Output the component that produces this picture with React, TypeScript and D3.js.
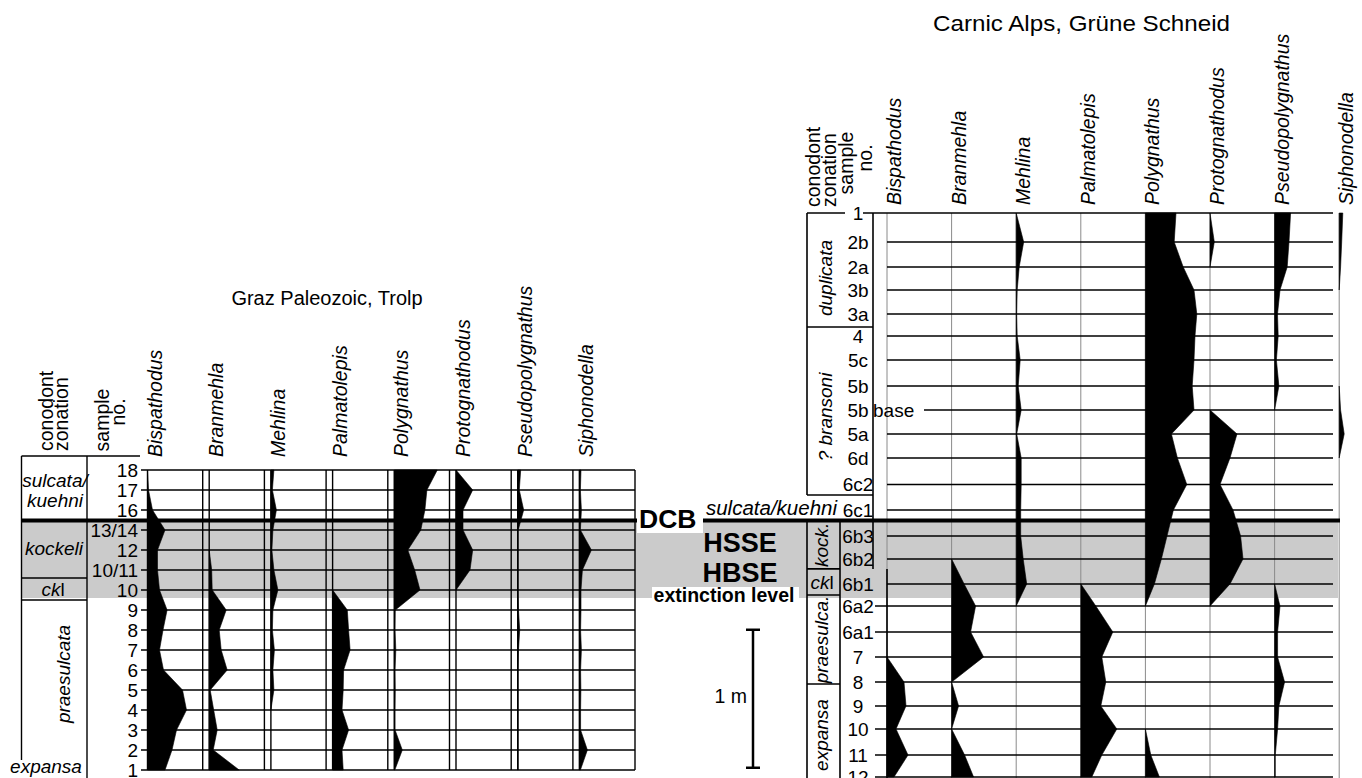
import React from "react";
import * as d3 from "d3";

const n = null;

const taxa = ["Bispathodus", "Branmehla", "Mehlina", "Palmatolepis", "Polygnathus", "Protognathodus", "Pseudopolygnathus", "Siphonodella"];

// Graz Paleozoic, Trolp - samples top to bottom (equal spacing)
const trolpSamples = ["18", "17", "16", "13/14", "12", "10/11", "10", "9", "8", "7", "6", "5", "4", "3", "2", "1"];
// relative abundance per sample, null = not found
const trolpBispathodus = [0, 1, 5, 17.5, 10, 10, 12, 19.6, 15.5, 12, 16, 35, 39, 29, 24.5, 17.5];
const trolpBranmehla = [n, n, n, n, 0, 2.5, 3, 17, 10, 12, 18, 1, 4.5, 8, 4, 30];
const trolpMehlina = [3, 1.5, 5.5, 2, 1, 3, 7, 2, 1.5, 3.5, 2, 3, 0, n, n, n];
const trolpPalmatolepis = [n, n, n, n, n, n, 0, 14.7, 16, 17.5, 11, 10.6, 9.4, 16, 9.4, 10.6];
const trolpPolygnathus = [43, 32.6, 30.6, 26.5, 13.5, 20.4, 25.7, 1, 0.8, 1.5, 0.8, 1, 0.8, 0.8, 8, 0.5];
const trolpProtognathodus = [0, 16.7, 7, 7, 16.7, 14, 0, n, n, n, n, n, n, n, n, n];
const trolpPseudopolygnathus = [3, 1.6, 6, 0.5, 0.5, 0.5, 0.5, 0.8, 2, 0.8, 0.5, 0.5, 0.5, 0.5, 0.5, 0.5];
const trolpSiphonodella = [1.6, 1, 2, 1, 12, 3, 1.6, 1.6, 1.2, 2, 1.2, 1.5, 1.2, 1.2, 8, 1];
// zone boundaries in sample-index units
const trolpZoneNames = ["sulcata/kuehni", "kockeli", "ckl", "praesulcata"];
const trolpZoneTops = [-0.7, 2.5, 5.4, 6.5];
const trolpZoneBottoms = [2.5, 5.4, 6.5, 15.4];

// Carnic Alps, Grune Schneid - samples with depth below sample 1 (cm)
const gsSamples = ["1", "2b", "2a", "3b", "3a", "4", "5c", "5b", "5b base", "5a", "6d", "6c2", "6c1", "6b3", "6b2", "6b1", "6a2", "6a1", "7", "8", "9", "10", "11", "12"];
const gsDepth = [0, 21, 39.1, 55.8, 73.2, 89.1, 106.5, 125.4, 142.8, 160.1, 177.5, 196.7, 215.2, 234.1, 250.7, 268.8, 284.8, 303.6, 321.7, 339.9, 357.2, 373.9, 392.8, 408.7];
const gsBispathodus = [n, n, n, n, n, n, n, n, n, n, n, n, n, n, n, n, n, n, 0, 17, 19, 9, 21, 7];
const gsBranmehla = [n, n, n, n, n, n, n, n, n, n, n, n, n, n, 0, 12.5, 24, 19, 32, 0, 7, 0, 13, 22];
const gsMehlina = [0, 7.5, 3, 1, 0.5, 1, 4, 2, 5, 0.5, 5, 5, 4.5, 4.5, 7, 10.5, 0, n, n, n, n, n, n, n];
const gsPalmatolepis = [n, n, n, n, n, n, n, n, n, n, n, n, n, n, n, 0, 15, 32, 21, 25, 20, 36, 21, 11];
const gsPolygnathus = [30.6, 28.8, 37.8, 48.6, 51.4, 49.6, 48.6, 46.8, 48.6, 26, 32, 41.4, 28, 21.6, 16, 9, 0, n, n, n, n, 0, 5.4, 14];
const gsProtognathodus = [0, 4.3, 0, n, n, n, n, n, 0, 27, 20, 10, 23, 30.6, 33, 20, 0, n, n, n, n, n, n, n];
const gsPseudopolygnathus = [16, 14.4, 12.6, 5.4, 2.9, 3.6, 1.8, 4.3, 0, n, n, n, n, n, n, 0, 5.4, 3, 3, 10, 4.3, 3, 0.7, 0.7];
const gsSiphonodella = [3.6, 2.5, 1.4, 0, n, n, n, 0, 1.4, 5, 0, n, n, n, n, n, n, n, n, n, n, n, n, n];
const gsZoneNames = ["duplicata", "? bransoni", "sulcata/kuehni", "kock.", "ckl", "praesulca.", "expansa"];
const gsZoneTops = [0, 82.6, 204.3, 223, 257.9, 276.8, 341.3];
const gsZoneBottoms = [82.6, 204.3, 223, 257.9, 276.8, 341.3, 420];

const trolpData = [trolpBispathodus, trolpBranmehla, trolpMehlina, trolpPalmatolepis, trolpPolygnathus, trolpProtognathodus, trolpPseudopolygnathus, trolpSiphonodella];
const gsData = [gsBispathodus, gsBranmehla, gsMehlina, gsPalmatolepis, gsPolygnathus, gsProtognathodus, gsPseudopolygnathus, gsSiphonodella];

const FONT = "'Liberation Sans', Arial, Helvetica, sans-serif";

function Ckl(props) {
  return (
    <text {...props}>
      <tspan fontStyle="italic">ck</tspan>
      <tspan>l</tspan>
    </text>
  );
}

export default function App() {
  const yL = d3.scaleLinear().domain([0, trolpSamples.length - 1]).range([470, 770]);
  const yR = d3.scaleLinear().domain([0, 100]).range([213, 351]);
  const w = d3.scaleLinear().domain([0, 50]).range([0, 50]);
  const lCol = d3.scaleLinear().domain([0, 1]).range([141, 202.7]);
  const rCol = d3.scaleLinear().domain([0, 1]).range([887, 951.6]);
  const lBase = (i) => lCol(i) + 6.5;
  const lRight = 635;
  const rRight = 1333;

  const shape = (vals, base, yFn) =>
    d3.area()
      .defined((v) => v != null)
      .x0(base)
      .x1((v) => base + w(v))
      .y((_, i) => yFn(i))(vals) || "";

  const yRi = (i) => yR(gsDepth[i]);

  const lineL = { stroke: "#000", strokeWidth: 1.4 };
  const lineR = { stroke: "#000", strokeWidth: 1.6 };

  return (
    <svg width={1362} height={778} style={{ position: "absolute", left: 0, top: 0, background: "#fff" }} fontFamily={FONT}>
      <rect x={0} y={0} width={1362} height={778} fill="#fff" />

      {/* DCB / extinction band */}
      <rect x={21} y={yL(2.5)} width={1317} height={yL(6.4) - yL(2.5)} fill="#cbcbcb" />

      {/* ===== Left section: Graz Paleozoic, Trolp ===== */}
      <text x={327} y={305} textAnchor="middle" fontSize={20}>Graz Paleozoic, Trolp</text>
      <text transform="translate(53,451) rotate(-90)" fontSize={19.5}>conodont</text>
      <text transform="translate(68,451) rotate(-90)" fontSize={19.5}>zonation</text>
      <text transform="translate(109,420) rotate(-90)" fontSize={19.5} textAnchor="middle">sample</text>
      <text transform="translate(125,412) rotate(-90)" fontSize={19.5} textAnchor="middle">no.</text>
      {taxa.map((t, i) => (
        <text key={t} transform={`translate(${lBase(i) + 14},457) rotate(-90)`} fontSize={19.5} fontStyle="italic">{t}</text>
      ))}

      {trolpData.map((vals, i) => (
        <path key={i} d={shape(vals, lBase(i), yL)} fill="#000" stroke="#000" strokeWidth={0.6} />
      ))}

      {/* rows */}
      {trolpSamples.map((s, i) => (
        <g key={s}>
          <line x1={141} x2={lRight} y1={yL(i)} y2={yL(i)} {...lineL} />
          <text x={138} y={yL(i) + 6.5} textAnchor="end" fontSize={19}>{s}</text>
        </g>
      ))}
      {/* columns */}
      {taxa.map((t, i) => (
        <g key={t}>
          {i > 0 && <line x1={lCol(i)} x2={lCol(i)} y1={yL(0)} y2={yL(15)} {...lineL} />}
          <line x1={lBase(i)} x2={lBase(i)} y1={yL(0)} y2={yL(15)} {...lineL} />
        </g>
      ))}
      <line x1={lRight} x2={lRight} y1={yL(0)} y2={yL(15)} {...lineL} />

      {/* zone column */}
      <line x1={21.5} x2={140} y1={yL(-0.7)} y2={yL(-0.7)} {...lineL} />
      <line x1={21.5} x2={21.5} y1={yL(-0.7)} y2={760} {...lineL} />
      <line x1={87} x2={87} y1={yL(-0.7)} y2={778} {...lineL} />
      {trolpZoneTops.slice(2).map((t, i) => (
        <line key={i} x1={21.5} x2={87} y1={yL(t)} y2={yL(t)} {...lineL} />
      ))}
      <text x={55} y={487} textAnchor="middle" fontSize={19} fontStyle="italic">{trolpZoneNames[0].split("/")[0] + "/"}</text>
      <text x={55} y={507} textAnchor="middle" fontSize={19} fontStyle="italic">{trolpZoneNames[0].split("/")[1]}</text>
      <text x={54} y={(yL(trolpZoneTops[1]) + yL(trolpZoneBottoms[1])) / 2 + 6} textAnchor="middle" fontSize={19} fontStyle="italic">{trolpZoneNames[1]}</text>
      <Ckl x={53} y={(yL(trolpZoneTops[2]) + yL(trolpZoneBottoms[2])) / 2 + 7} textAnchor="middle" fontSize={19} />
      <text transform="translate(70,674) rotate(-90)" textAnchor="middle" fontSize={19} fontStyle="italic">{trolpZoneNames[3]}</text>
      <text x={46} y={773} textAnchor="middle" fontSize={19} fontStyle="italic">expansa</text>

      {/* ===== Right section: Carnic Alps, Grune Schneid ===== */}
      <text x={933} y={31} fontSize={22} textLength={297} lengthAdjust="spacingAndGlyphs">Carnic Alps, Grüne Schneid</text>
      <text transform="translate(820,207) rotate(-90)" fontSize={19.5}>conodont</text>
      <text transform="translate(836,207) rotate(-90)" fontSize={19.5}>zonation</text>
      <text transform="translate(853,163) rotate(-90)" fontSize={19.5} textAnchor="middle">sample</text>
      <text transform="translate(872,158) rotate(-90)" fontSize={19.5} textAnchor="middle">no.</text>
      {taxa.map((t, i) => (
        <text key={t} transform={`translate(${rCol(i) + 14},205) rotate(-90)`} fontSize={19.5} fontStyle="italic">{t}</text>
      ))}

      {/* columns (thin grey) */}
      {taxa.map((t, i) => (
        <line key={t} x1={rCol(i)} x2={rCol(i)} y1={yR(0)} y2={778} stroke="#8a8a8a" strokeWidth={1} />
      ))}

      {gsData.map((vals, i) => (
        <path key={i} d={shape(vals, rCol(i), yRi)} fill="#000" stroke="#000" strokeWidth={0.6} />
      ))}

      {gsSamples.map((s, i) => {
        const y = yR(gsDepth[i]);
        const [main, extra] = s.split(" ");
        const x1 = extra ? 924 : gsDepth[i] > gsZoneBottoms[4] ? 875 : rCol(0);
        return (
          <g key={s}>
            {i === 0 ? (
              <>
                <line x1={807} x2={845} y1={y} y2={y} {...lineR} />
                <line x1={863} x2={rRight} y1={y} y2={y} {...lineR} />
              </>
            ) : (
              <line x1={x1} x2={rRight} y1={y} y2={y} {...lineR} />
            )}
            <text x={858} y={y + 7} textAnchor="middle" fontSize={19}>{main}</text>
            {extra && <text x={873} y={y + 7} fontSize={19}>{extra}</text>}
          </g>
        );
      })}

      {/* zone column */}
      <line x1={807} x2={807} y1={yR(0)} y2={yR(gsZoneBottoms[1])} {...lineR} />
      <line x1={807} x2={807} y1={yR(gsZoneTops[3])} y2={778} {...lineR} />
      <line x1={873} x2={873} y1={yR(0)} y2={yR(gsZoneBottoms[3])} {...lineR} />
      <line x1={rCol(0)} x2={rCol(0)} y1={yR(gsZoneBottoms[3])} y2={778} {...lineR} />
      <line x1={840} x2={840} y1={yR(gsZoneTops[3])} y2={778} {...lineR} />
      {[gsZoneBottoms[0], gsZoneBottoms[1]].map((d, i) => (
        <line key={i} x1={807} x2={873} y1={yR(d)} y2={yR(d)} {...lineR} />
      ))}
      {[gsZoneBottoms[3], gsZoneBottoms[4], gsZoneBottoms[5]].map((d, i) => (
        <line key={i} x1={807} x2={840} y1={yR(d)} y2={yR(d)} {...lineR} />
      ))}
      <text transform={`translate(832,${(yR(gsZoneTops[0]) + yR(gsZoneBottoms[0])) / 2 + 8}) rotate(-90)`} textAnchor="middle" fontSize={19} fontStyle="italic">{gsZoneNames[0]}</text>
      <text transform={`translate(832,${(yR(gsZoneTops[1]) + yR(gsZoneBottoms[1])) / 2 + 6}) rotate(-90)`} textAnchor="middle" fontSize={19} fontStyle="italic">{gsZoneNames[1]}</text>
      <text x={837} y={515} textAnchor="end" fontSize={20.5} fontStyle="italic">{gsZoneNames[2]}</text>
      <text transform={`translate(828,${(yR(gsZoneTops[3]) + yR(gsZoneBottoms[3])) / 2}) rotate(-90)`} textAnchor="middle" fontSize={19} fontStyle="italic">{gsZoneNames[3]}</text>
      <Ckl x={822} y={(yR(gsZoneTops[4]) + yR(gsZoneBottoms[4])) / 2 + 7} textAnchor="middle" fontSize={19} />
      <text transform={`translate(828,${(yR(gsZoneTops[5]) + yR(gsZoneBottoms[5])) / 2}) rotate(-90)`} textAnchor="middle" fontSize={19} fontStyle="italic">{gsZoneNames[5]}</text>
      <text transform="translate(828,735) rotate(-90)" textAnchor="middle" fontSize={19} fontStyle="italic">{gsZoneNames[6]}</text>

      {/* ===== Boundary and event labels ===== */}
      <line x1={21} x2={1340} y1={520.5} y2={520.5} stroke="#000" strokeWidth={4} />
      <rect x={637} y={506} width={66} height={27} fill="#fff" />
      <text x={639} y={528} fontSize={26.5} fontWeight="bold">DCB</text>
      <text x={740} y={552} textAnchor="middle" fontSize={27} fontWeight="bold">HSSE</text>
      <text x={740} y={582} textAnchor="middle" fontSize={27} fontWeight="bold">HBSE</text>
      <rect x={652} y={587} width={147} height={17} fill="#fff" />
      <text x={724} y={602} textAnchor="middle" fontSize={19.5} fontWeight="bold">extinction level</text>

      {/* 1 m scale bar (right section depth scale) */}
      <g stroke="#000" strokeWidth={2.5}>
        <line x1={753} x2={753} y1={yR(302)} y2={yR(402)} />
        <line x1={746} x2={760} y1={yR(302)} y2={yR(302)} />
        <line x1={746} x2={760} y1={yR(402)} y2={yR(402)} />
      </g>
      <text x={747} y={703} textAnchor="end" fontSize={19.5}>1 m</text>
    </svg>
  );
}
